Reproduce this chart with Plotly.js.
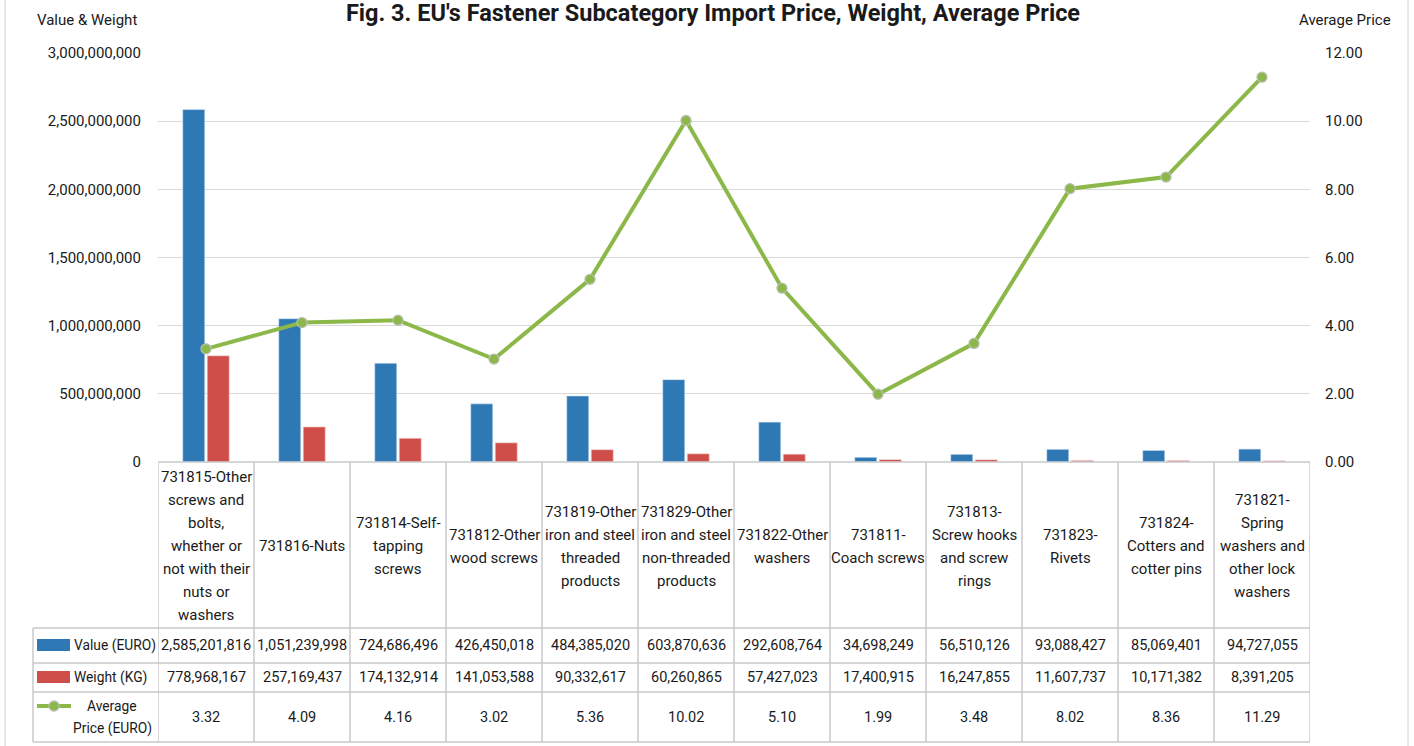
<!DOCTYPE html>
<html>
<head>
<meta charset="utf-8">
<script src="https://cdn.plot.ly/plotly-3.0.1.min.js"></script>
<style>
html,body{margin:0;padding:0;background:#fff;}
#chart{width:1414px;height:746px;}
</style>
</head>
<body>
<div id="chart"></div>
<script>
// ---- data ----
const categories = [
  "731815-Other|screws and|bolts,|whether or|not with their|nuts or|washers",
  "731816-Nuts",
  "731814-Self-|tapping|screws",
  "731812-Other|wood screws",
  "731819-Other|iron and steel|threaded|products",
  "731829-Other|iron and steel|non-threaded|products",
  "731822-Other|washers",
  "731811-|Coach screws",
  "731813-|Screw hooks|and screw|rings",
  "731823-|Rivets",
  "731824-|Cotters and|cotter pins",
  "731821-|Spring|washers and|other lock|washers"
];
const valueEuro = [2585201816, 1051239998, 724686496, 426450018, 484385020, 603870636, 292608764, 34698249, 56510126, 93088427, 85069401, 94727055];
const weightKg = [778968167, 257169437, 174132914, 141053588, 90332617, 60260865, 57427023, 17400915, 16247855, 11607737, 10171382, 8391205];
const avgPrice = [3.32, 4.09, 4.16, 3.02, 5.36, 10.02, 5.10, 1.99, 3.48, 8.02, 8.36, 11.29];
const seriesNames = ["Value (EURO)", "Weight (KG)", "Average|Price (EURO)"];
const titleText = "Fig. 3. EU's Fastener Subcategory Import Price, Weight, Average Price";
const leftAxisTitle = "Value & Weight";
const rightAxisTitle = "Average Price";

// ---- layout geometry ----
const W = 1414, H = 746;
const L = 158, R = 1310, T = 53, B = 462;
const FONT = "Roboto, 'Liberation Sans', sans-serif";
const TXT = "#1a1a1a";
const GRID = "#d9d9d9";
const BORDER = "#c8c8cc";
const BLUE = "#2e78b6", RED = "#d04e4a", GREEN = "#8cb84a";
const px2x = px => (px - L) / (R - L);
const py2y = py => (B - py) / (B - T);

const idx = categories.map((_, i) => i);

const traces = [
  {type: "bar", name: seriesNames[0], x: idx, y: valueEuro, marker: {color: BLUE, line: {color: "#dce8f4", width: 0.6}}, yaxis: "y", hoverinfo: "y"},
  {type: "bar", name: seriesNames[1], x: idx, y: weightKg, marker: {color: RED, line: {color: "#f4dcdc", width: 0.6}}, yaxis: "y", hoverinfo: "y"},
  {type: "scatter", mode: "lines+markers", name: seriesNames[2], x: idx, y: avgPrice, yaxis: "y2",
   line: {color: GREEN, width: 4}, marker: {color: GREEN, size: 10, line: {color: "#b9bdb3", width: 1.3}}, hoverinfo: "y"}
];

const shapes = [];
const annotations = [];

// table horizontal lines
shapes.push({type: "line", xref: "paper", yref: "paper", x0: 0, x1: 1, y0: 0, y1: 0, line: {color: BORDER, width: 1.5}});
[628, 663, 692, 742].forEach(py => {
  shapes.push({type: "line", xref: "paper", yref: "paper", x0: px2x(33), x1: 1, y0: py2y(py), y1: py2y(py), line: {color: BORDER, width: 1.5}});
});
// table vertical lines
for (let k = 0; k <= categories.length; k++) {
  shapes.push({type: "line", xref: "x", yref: "paper", x0: k - 0.5, x1: k - 0.5, y0: 0, y1: py2y(742), line: {color: BORDER, width: 1.5}});
}
shapes.push({type: "line", xref: "paper", yref: "paper", x0: px2x(33), x1: px2x(33), y0: py2y(628), y1: py2y(742), line: {color: BORDER, width: 1.5}});
// chart outer border
[5, 1408].forEach(px => {
  shapes.push({type: "line", xref: "paper", yref: "paper", x0: px2x(px), x1: px2x(px), y0: py2y(0), y1: py2y(746), line: {color: "#d0d0d0", width: 1}});
});

// legend keys
shapes.push({type: "rect", xref: "paper", yref: "paper", x0: px2x(37), x1: px2x(70), y0: py2y(639), y1: py2y(651), fillcolor: BLUE, line: {width: 0}});
shapes.push({type: "rect", xref: "paper", yref: "paper", x0: px2x(37), x1: px2x(70), y0: py2y(671), y1: py2y(683), fillcolor: RED, line: {width: 0}});
shapes.push({type: "line", xref: "paper", yref: "paper", x0: px2x(37), x1: px2x(71), y0: py2y(706), y1: py2y(706), line: {color: GREEN, width: 4}});
shapes.push({type: "circle", xref: "paper", yref: "paper", x0: px2x(49), x1: px2x(59), y0: py2y(701), y1: py2y(711), fillcolor: GREEN, line: {color: "#b9bdb3", width: 1.3}});

const tf = {family: FONT, size: 15, color: TXT};
const vf = {family: FONT, size: 14.5, color: TXT};
const lf = {family: FONT, size: 13.8, color: TXT};

// category labels (split lines, centred in cell)
categories.forEach((c, i) => {
  const lines = c.split("|");
  const lh = 23, cy = 546;
  lines.forEach((ln, j) => {
    const py = cy + (j - (lines.length - 1) / 2) * lh;
    annotations.push({xref: "x", yref: "paper", x: i, y: py2y(py), text: ln, showarrow: false, xanchor: "center", yanchor: "middle", font: tf});
  });
});
// data rows
const fmt = v => v.toLocaleString("en-US");
idx.forEach(i => {
  annotations.push({xref: "x", yref: "paper", x: i, y: py2y(645.5), text: fmt(valueEuro[i]), showarrow: false, yanchor: "middle", font: vf});
  annotations.push({xref: "x", yref: "paper", x: i, y: py2y(677.5), text: fmt(weightKg[i]), showarrow: false, yanchor: "middle", font: vf});
  annotations.push({xref: "x", yref: "paper", x: i, y: py2y(717), text: avgPrice[i].toFixed(2), showarrow: false, yanchor: "middle", font: vf});
});
// legend labels
annotations.push({xref: "paper", yref: "paper", x: px2x(72), y: py2y(645.5), text: seriesNames[0], showarrow: false, xanchor: "left", yanchor: "middle", font: lf});
annotations.push({xref: "paper", yref: "paper", x: px2x(72), y: py2y(677.5), text: seriesNames[1], showarrow: false, xanchor: "left", yanchor: "middle", font: lf});
seriesNames[2].split("|").forEach((ln, j) => {
  annotations.push({xref: "paper", yref: "paper", x: px2x(112), y: py2y(706 + j * 23), text: ln, showarrow: false, xanchor: "center", yanchor: "middle", font: lf});
});
// axis titles
annotations.push({xref: "paper", yref: "paper", x: px2x(87), y: py2y(20), text: leftAxisTitle, showarrow: false, xanchor: "center", yanchor: "middle", font: tf});
annotations.push({xref: "paper", yref: "paper", x: px2x(1345), y: py2y(20), text: rightAxisTitle, showarrow: false, xanchor: "center", yanchor: "middle", font: tf});

const layout = {
  width: W, height: H,
  margin: {l: L, r: W - R, t: T, b: H - B, pad: 0},
  paper_bgcolor: "#fff", plot_bgcolor: "#fff",
  showlegend: false,
  barmode: "group", bargap: 0.49, bargroupgap: 0.1,
  title: {text: "<b>" + titleText + "</b>", x: px2x(713), xref: "paper", xanchor: "center", y: 1 - 13 / H, yanchor: "middle",
          font: {family: FONT, size: 23.5, color: TXT}},
  xaxis: {range: [-0.5, categories.length - 0.5], showticklabels: false, showgrid: false, zeroline: false, ticks: "", showline: false, fixedrange: true},
  yaxis: {range: [0, 3e9], dtick: 5e8, tickformat: ",d", gridcolor: GRID, gridwidth: 1.2, zeroline: false, showline: false, ticks: "",
          ticklabelstandoff: 16, tickfont: tf, fixedrange: true},
  yaxis2: {range: [0, 12], dtick: 2, tickformat: ".2f", overlaying: "y", side: "right", showgrid: false, zeroline: false, showline: false, ticks: "",
           ticklabelstandoff: 14, tickfont: tf, fixedrange: true},
  shapes: shapes,
  annotations: annotations
};

Plotly.newPlot("chart", traces, layout, {displayModeBar: false, staticPlot: true});
</script>
</body>
</html>
